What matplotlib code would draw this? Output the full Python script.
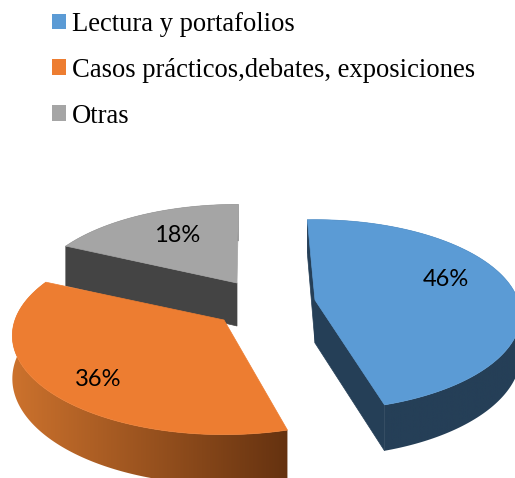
import numpy as np
import matplotlib
matplotlib.use("Agg")
import matplotlib.pyplot as plt
from matplotlib.colors import LinearSegmentedColormap
from matplotlib.patches import Patch, Polygon

LABELS = ["Lectura y portafolios", "Casos prácticos,debates, exposiciones", "Otras"]
VALUES = [46, 36, 18]
PCT_TEXT = ["46%", "36%", "18%"]
COLORS = ["#5b9bd5", "#ed7d31", "#a5a5a5"]

START_DEG = -2
PERSP = 0.158

# per slice: apex in pixels, radii, wall depth, small rotation, label position, wall gradient, cut faces
APEX = [(315, 300), (224, 320), (237, 283)]
RX = [203, 209, 203]
RY = [93, 96.5, 91]
DEPTH = [39, 42, 42.5]
APEX_DEPTH = 43
NUDGE_DEG = [-0.5, 1.5, 2.5]
LABEL_POS = [(446, 279), (98, 379), (177, 235)]
WALL = [("#253f57", "#253f57"), ("#cc722d", "#653210"), ("#444444", "#444444")]
CUT = ["#253f57", None, "#444444"]
CUT_FACES = [(True, True), (False, False), (True, False)]
ZORDER = [2, 3, 1]


def project(i, t):
    # tilted circle with a bit of perspective, t clockwise from 12 o'clock
    u, v = np.sin(t), np.cos(t)
    scale = 1 / (1 + PERSP * v)
    return APEX[i][0] + RX[i] * u * scale, APEX[i][1] - RY[i] * v * scale, DEPTH[i] * scale


def draw_slice(ax, i, t0, t1):
    apex = APEX[i]
    z = ZORDER[i]
    t = np.linspace(t0, t1, 200)
    x, y, d = project(i, t)

    # outer wall: gradient image clipped to the wall outline
    outline = list(zip(x, y)) + list(zip(x[::-1], (y + d)[::-1]))
    clip = Polygon(outline, closed=True, transform=ax.transData)
    cmap = LinearSegmentedColormap.from_list("wall", WALL[i])
    im = ax.imshow(np.linspace(0, 1, 256).reshape(1, -1), cmap=cmap, aspect="auto", zorder=z,
                   extent=(x.min(), x.max(), (y + d).max(), y.min()))
    im.set_clip_path(clip)

    # flat cut faces
    for show, k in zip(CUT_FACES[i], [0, -1]):
        if show:
            pts = [apex, (x[k], y[k]), (x[k], y[k] + d[k]), (apex[0], apex[1] + APEX_DEPTH)]
            ax.add_patch(Polygon(pts, closed=True, fc=CUT[i], ec=CUT[i], lw=0.5, zorder=z + 0.1))

    top = [apex] + list(zip(x, y))
    ax.add_patch(Polygon(top, closed=True, fc=COLORS[i], ec=COLORS[i], lw=0.5, zorder=z + 0.5))


fig = plt.figure(figsize=(5.15, 4.78), dpi=100)
ax = fig.add_axes([0, 0, 1, 1])

angle = np.deg2rad(START_DEG)
for i, val in enumerate(VALUES):
    sweep = 2 * np.pi * val / sum(VALUES)
    t0 = angle + np.deg2rad(NUDGE_DEG[i])
    draw_slice(ax, i, t0, t0 + sweep)
    ax.text(LABEL_POS[i][0], LABEL_POS[i][1], PCT_TEXT[i], family="Lato", fontsize=17, color="black",
            ha="center", va="center", zorder=10)
    angle += sweep

ax.set_xlim(0, 515)
ax.set_ylim(478, 0)
ax.axis("off")

handles = [Patch(fc=c, ec="none") for c in COLORS]
ax.legend(handles, LABELS, loc="upper left", bbox_to_anchor=(52 / 515, 1 - 12 / 478), frameon=False,
          prop={"family": "Liberation Serif", "size": 19.2}, handlelength=0.53, handleheight=0.53,
          handletextpad=0.23, labelspacing=0.78, borderpad=0, borderaxespad=0)

fig.savefig("out.png", dpi=100)
